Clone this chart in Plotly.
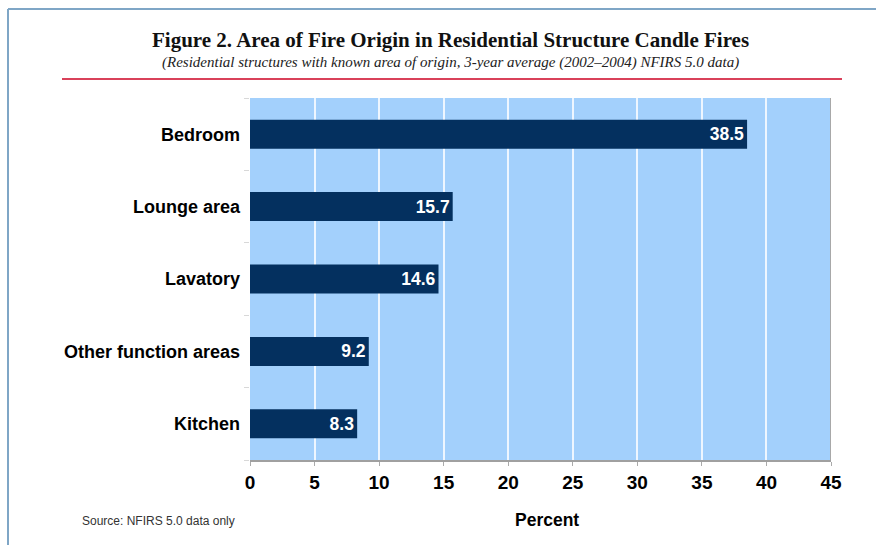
import plotly.graph_objects as go

categories = ["Bedroom", "Lounge area", "Lavatory", "Other function areas", "Kitchen"]
values = [38.5, 15.7, 14.6, 9.2, 8.3]
tick_vals = [0, 5, 10, 15, 20, 25, 30, 35, 40, 45]

W, H = 876, 545
L, R, T, B = 250, 831, 98, 460

SANS = "Liberation Sans, Arial, sans-serif"
SERIF = "Liberation Serif, DejaVu Serif, serif"

fig = go.Figure()
fig.add_trace(go.Bar(
    y=categories, x=values, orientation="h",
    marker=dict(color="#04305f", line=dict(width=0)),
    width=0.4,
    text=[f"{v:.1f}" for v in values],
    textposition="inside", insidetextanchor="end",
    textfont=dict(color="white", size=17.5, family=SANS, weight="bold"),
    cliponaxis=False,
    hoverinfo="skip",
))

fig.update_layout(
    width=W, height=H,
    margin=dict(l=L, r=W - R, t=T, b=H - B, autoexpand=False),
    paper_bgcolor="white", plot_bgcolor="#a3d0fc",
    showlegend=False,
    xaxis=dict(range=[0, 45], tickvals=tick_vals, showgrid=True, gridcolor="#eef6ff", gridwidth=2,
               zeroline=False, ticks="outside", ticklen=4, tickcolor="#aaaaaa",
               tickfont=dict(size=19, family=SANS, color="black", weight="bold"),
               showline=True, linecolor="#a0a0a0", linewidth=2, mirror=False),
    yaxis=dict(categoryorder="array", categoryarray=categories[::-1], showgrid=False,
               ticks="outside", tickson="boundaries", ticklen=5, tickcolor="#d8d8d8",
               ticklabelstandoff=9,
               tickfont=dict(size=18, family=SANS, color="black", weight="bold"),
               showline=False),
    font=dict(family=SANS),
)

def px(x):
    return (x - L) / (R - L)

def py(y):
    return (B - y) / (B - T)

# right border of plot area
fig.add_shape(type="line", xref="x", yref="paper", x0=45, x1=45, y0=0, y1=1,
              line=dict(color="#a8a8a8", width=2))

# outer frame lines
fig.add_shape(type="line", xref="paper", yref="paper",
              x0=px(8), x1=px(8), y0=py(H + 5), y1=py(9),
              line=dict(color="#7fa6c6", width=2))
fig.add_shape(type="line", xref="paper", yref="paper",
              x0=px(8), x1=px(W + 5), y0=py(9), y1=py(9),
              line=dict(color="#7fa6c6", width=2))
# red rule under title
fig.add_shape(type="line", xref="paper", yref="paper",
              x0=px(62), x1=px(842), y0=py(79), y1=py(79),
              line=dict(color="#d9415a", width=2))

fig.add_annotation(x=px(450), y=py(40), xref="paper", yref="paper", xanchor="center", yanchor="middle",
                   text="<b>Figure 2. Area of Fire Origin in Residential Structure Candle Fires</b>",
                   showarrow=False, font=dict(size=21, family=SERIF, color="#111111"))
fig.add_annotation(x=px(450), y=py(62), xref="paper", yref="paper", xanchor="center", yanchor="middle",
                   text="<i>(Residential structures with known area of origin, 3-year average (2002–2004) NFIRS 5.0 data)</i>",
                   showarrow=False, font=dict(size=15, family=SERIF, color="#222222"))
fig.add_annotation(x=px(547), y=py(520), xref="paper", yref="paper", xanchor="center", yanchor="middle",
                   text="<b>Percent</b>", showarrow=False,
                   font=dict(size=17.5, family=SANS, color="black"))
fig.add_annotation(x=px(80), y=py(521), xref="paper", yref="paper", xanchor="left", yanchor="middle",
                   text="Source: NFIRS 5.0 data only", showarrow=False,
                   font=dict(size=12, family=SANS, color="#333333"))

fig.write_html("out.html", config={"displayModeBar": False},
               post_script="document.body.style.margin='0px';")
